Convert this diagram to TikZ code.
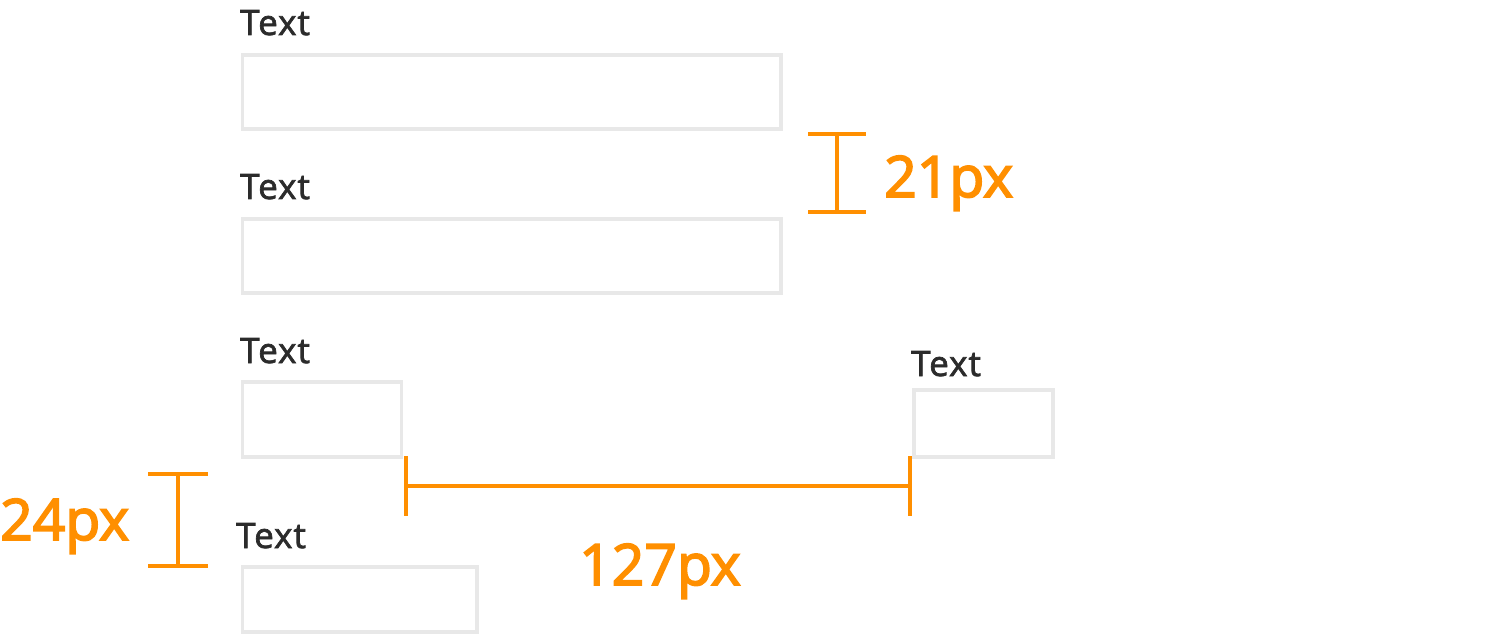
\documentclass[tikz,border=0pt]{standalone}
\usepackage{fontspec}
\setmainfont{Open Sans}
\newfontfamily\lblfont{Open Sans}[FakeBold=2,LetterSpace=3]
\newfontfamily\dimfont{Open Sans}[FakeBold=3]
\definecolor{boxgray}{HTML}{E8E8E8}
\definecolor{txtdark}{HTML}{2B2B2B}
\definecolor{dimorange}{HTML}{FF8F00}
\begin{document}
\begin{tikzpicture}[x=1pt,y=-1pt,
  field/.style={draw=boxgray,line width=3.5pt},
  lbl/.style={anchor=base west,inner sep=0pt,text=txtdark,font=\lblfont\fontsize{35}{40}\selectfont},
  dim/.style={draw=dimorange,line width=3.5pt},
  dimlbl/.style={anchor=base west,inner sep=0pt,text=dimorange,font=\dimfont\fontsize{57}{64}\selectfont}]
\useasboundingbox (0,0) rectangle (1511,636);
% fields
\draw[field] (242.5,55) rectangle (781,129);
\draw[field] (242.5,219) rectangle (781,293);
\draw[field] (242.5,382) rectangle (401.5,457);
\draw[field] (914,390) rectangle (1053,457);
\draw[field] (242.5,567) rectangle (477,632);
% labels
\node[lbl] (t1) at (240,35) {Text};
\node[lbl] (t2) at (240,199) {Text};
\node[lbl] (t3) at (240,363) {Text};
\node[lbl] (t4) at (911,376) {Text};
\node[lbl] (t5) at (236,548) {Text};
% 21px
\coordinate (a1) at (837,134);
\coordinate (a2) at (837,212);
\draw[dim] (808,134) -- (866,134);
\draw[dim] (808,212) -- (866,212);
\draw[dim] (a1) -- (a2);
\node[dimlbl] (d21) at (884,197) {21px};
% 24px
\coordinate (b1) at (178,474);
\coordinate (b2) at (178,566);
\draw[dim] (148,474) -- (208,474);
\draw[dim] (148,566) -- (208,566);
\draw[dim] (b1) -- (b2);
\node[dimlbl] (d24) at (0,540) {24px};
% 127px
\coordinate (c1) at (406,486);
\coordinate (c2) at (910,486);
\draw[dim] (406,456) -- (406,516);
\draw[dim] (910,456) -- (910,516);
\draw[dim] (c1) -- (c2);
\node[dimlbl] (d127) at (579,585) {127px};
\end{tikzpicture}
\end{document}
